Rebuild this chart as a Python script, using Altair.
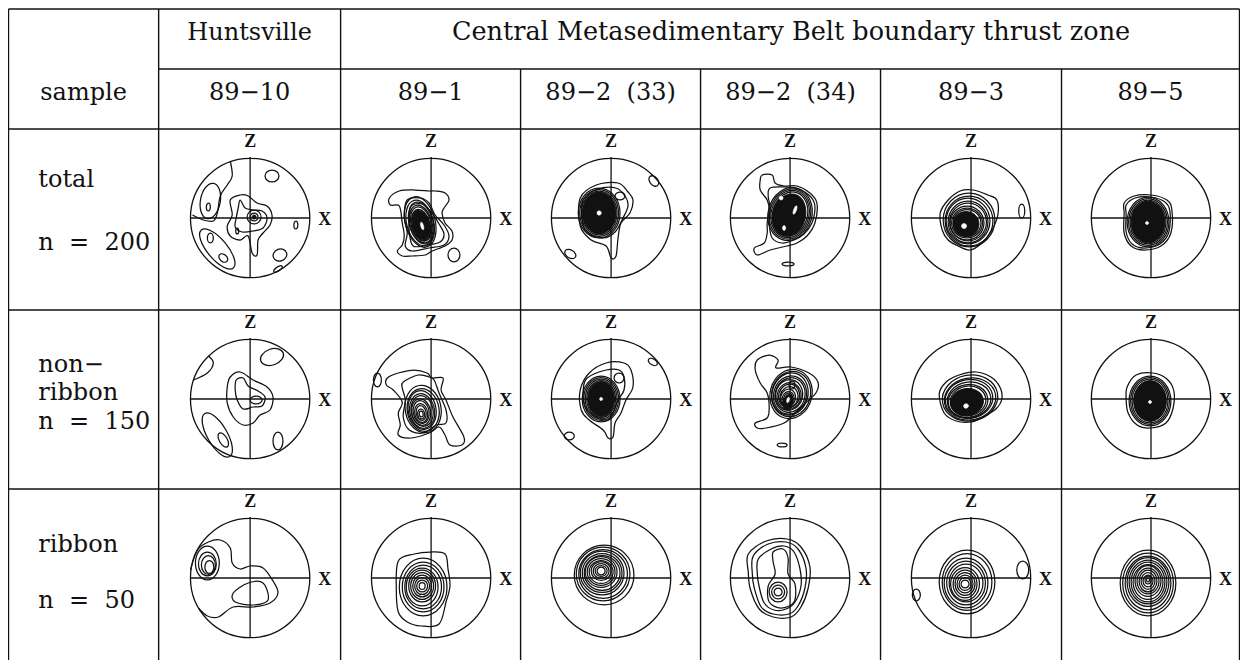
import altair as alt
import pandas as pd

# ---------------- table layout (reference pixel coordinates) ----------------
COL_EDGES = [7, 158, 341, 522, 703, 884, 1066, 1245]
ROW_EDGES = [9, 69, 129, 310, 489, 668]

GROUP_TITLES = ["Huntsville", "Central Metasedimentary Belt boundary thrust zone"]
SAMPLES = ["89\u221210", "89\u22121", "89\u22122\u00a0 (33)", "89\u22122\u00a0 (34)", "89\u22123", "89\u22125"]
ROW_LABELS = [["total", "n\u00a0 =\u00a0 200"],
              ["non\u2212", "ribbon", "n\u00a0 =\u00a0 150"],
              ["ribbon", "n\u00a0 =\u00a0 50"]]
ROW_LABEL_BASELINES = [[187, 250], [372, 400, 429], [552, 608]]

NET_CX = [250, 432, 613, 793, 975, 1156]
NET_CY = [218, 399, 578]
NET_R = 60  # primitive circle radius, in stereonet units

# ---------------- contour data (stereonet units, x right, y down) ----------------
# rings / cores / holes: (dx, dy, rx, ry, rotation deg)
H_TOT_RINGS = [(-40, -17, 10, 18, 10), (-42, -11, 2, 4, 0), (4, -1, 7, 7, 0), (4, -1, 4, 4, 0),
               (-13, 13, 1.5, 3, 0), (22, -42, 7, 6, 0), (46, 7, 2, 4, 0),
               (30, 37, 7, 6, -20), (28, 51, 5, 2, -35), (-33, 31, 25, 10, 50), (-40, 20, 3, 5, 0),
               (-27, 40, 5, 3.5, 40)]
H_TOT_CORES = [(4, -1, 2, 2, 0)]
H_TOT_CLOSED = [[(-20, -18), (-10, -23), (-2, -22), (7, -15), (17, -12), (22, -3), (20, 7), (13, 15),
                 (8, 22), (7, 37), (2, 35), (-2, 18), (-10, 22), (-20, 18), (-23, 8), (-18, -3)],
                [(-10, -18), (-5, -10), (3, -8), (12, -7), (17, 0), (13, 10), (3, 13), (-8, 14),
                 (-15, 9), (-14, 0), (-12, -10)]]
H_TOT_OPEN = [[(-20, -57), (-18, -42), (-23, -33), (-30, -22), (-33, -5), (-37, 3), (-47, 2), (-58, -3)]]

A1_TOT_RINGS = [(-11, 4, 15, 26, -15), (-11, 5, 13.5, 23.5, -15), (-10, 5, 12, 21.5, -15),
                (-10, 6, 11, 19.5, -15), (-10, 6, 10, 17.5, -15), (-10, 7, 9, 16, -15),
                (23, 37, 6, 7, 0)]
A1_TOT_CORES = [(-10, 7, 8.5, 15, -15)]
A1_TOT_HOLES = [(-9, 8, 1.4, 4, -15)]
A1_TOT_CLOSED = [[(-42, -20), (-32, -27), (-16, -28), (-2, -27), (4, -27), (14, -25), (18, -18), (13, -10),
                  (11, -5), (14, 5), (21, 13), (21, 22), (14, 28), (1, 33), (-6, 37), (-19, 38), (-29, 38),
                  (-34, 33), (-29, 27), (-27, 18), (-29, 5), (-32, -12), (-41, -13)],
                 [(-24, -18), (-11, -20), (-2, -15), (4, -3), (13, 7), (18, 18), (13, 27), (-2, 30),
                  (-19, 33), (-26, 28), (-24, 15), (-27, -2)],
                 [(-20, -12), (-9, -14), (0, -6), (8, 6), (13, 16), (9, 24), (-4, 27), (-18, 28),
                  (-22, 14), (-22, 0)]]

A33_TOT_RINGS = [(-12, -5, 21, 25, 0), (-12, -5, 19.5, 23.5, 0), (-12, -5, 18, 22, 0),
                 (9, -22, 5, 4, 0), (-41, 36, 6, 4, 30), (43, -37, 4, 6, -40), (-12, -5, 0.7, 0.7, 0)]
A33_TOT_CORES = [(-12, -5, 17, 21, 0)]
A33_TOT_HOLES = [(-12, -5, 2.2, 2.2, 0)]
A33_TOT_CLOSED = [[(-31, -20), (-15, -33), (7, -35), (17, -26), (22, -18), (19, -5), (10, 5), (7, 20),
                   (5, 38), (0, 40), (-5, 28), (-20, 22), (-31, 8)],
                  [(-28, -18), (-13, -29), (5, -30), (14, -22), (17, -12), (12, 0), (4, 14), (-8, 20),
                   (-24, 15), (-29, 2)]]

A34_TOT_RINGS = [(0, -4, 22, 27, 15), (0, -4, 20.5, 25.5, 15), (0, -4, 19, 24, 15), (0, -4, 17.5, 22.5, 15),
                 (-2, 46, 6, 2, 0)]
A34_TOT_CORES = [(-1, -3, 16.5, 21.5, 15)]
A34_TOT_HOLES = [(-9, -20, 2, 2, 0), (5, -8, 1.4, 4.5, 20), (-6, 10, 1.6, 2.5, 0)]
A34_TOT_CLOSED = [[(-28, -43), (-18, -43), (-15, -35), (-6, -32), (7, -32), (20, -25), (27, -15), (25, 5),
                   (17, 18), (7, 25), (-3, 28), (-20, 32), (-33, 37), (-36, 30), (-26, 25), (-23, 15),
                   (-23, 5), (-21, -8), (-23, -18), (-30, -28), (-30, -38)],
                  [(-20, -30), (-5, -31), (8, -29), (20, -22), (25, -12), (22, 5), (14, 16), (4, 22),
                   (-8, 25), (-18, 20), (-21, 5), (-20, -10), (-22, -22)]]

A3_TOT_RINGS = [(-2, 2, 26, 27, 0), (-2, 3, 24, 25, 0), (-3, 3, 22, 23, 0), (-3, 4, 20, 21, 0),
                (-3, 4, 18.5, 19, 0), (-4, 5, 17, 17, 0), (-4, 5, 15.5, 15, 0), (-4, 5, 14, 13.5, 0),
                (51, -7, 3, 7, 0)]
A3_TOT_CORES = [(-5, 6, 13, 12.5, 0)]
A3_TOT_HOLES = [(-7, 8, 2.6, 2.6, 0)]
A3_TOT_CLOSED = [[(-31, -5), (-23, -18), (-11, -27), (2, -28), (17, -23), (26, -18), (27, -3), (21, 12),
                  (11, 25), (-1, 32), (-13, 28), (-23, 22), (-29, 12)]]

A5_TOT_RINGS = [(-3, 4, 21, 25, 0), (-3, 4, 19.5, 23.5, 0), (-3, 4, 18, 22, 0), (-4, 5, 0.7, 0.7, 0)]
A5_TOT_CORES = [(-3, 4, 17, 21, 0)]
A5_TOT_HOLES = [(-4, 5, 1.6, 1.6, 0)]
A5_TOT_CLOSED = [[(-27, -15), (-17, -22), (0, -23), (16, -18), (21, -8), (20, 15), (10, 28), (-7, 32),
                  (-20, 28), (-27, 15), (-27, -5)],
                 [(-25, -13), (-16, -20), (0, -21), (14, -16), (19, -7), (18, 14), (9, 26), (-7, 30),
                  (-19, 26), (-25, 14), (-25, -4)]]

H_NR_RINGS = [(22, -42, 12, 8, -20), (6, 1, 6, 4, 0), (-33, 36, 25, 10, 60), (-27, 41, 8, 4, 60),
              (28, 42, 5, 9, 0)]
H_NR_CLOSED = [[(-20, -22), (-10, -27), (3, -19), (17, -12), (23, -2), (20, 11), (10, 16), (3, 24),
                (-7, 26), (-17, 18), (-23, 4), (-23, -12)],
               [(-14, -19), (-7, -21), (-2, -13), (8, -8), (15, -2), (12, 7), (3, 8), (-7, 10),
                (-13, 1), (-15, -9)]]
H_NR_OPEN = [[(-42, -43), (-37, -36), (-43, -26), (-57, -19)]]

A1_NR_RINGS = [(-8, 10, 18, 24, -10), (-8, 11, 16, 21.5, -10), (-9, 11, 14, 19.5, -10), (-9, 12, 12.5, 17.5, -10),
               (-9, 12, 11, 15.5, -10), (-10, 13, 9.5, 13.5, -10), (-10, 13, 8, 11.5, -10),
               (-10, 14, 6.5, 9.5, -10), (-10, 14, 5, 7.5, -10), (-10, 15, 3.5, 5, -10),
               (-10, 15, 2, 3, -10), (-54, -19, 4, 7, 0)]
A1_NR_CLOSED = [[(-44, -21), (-33, -26), (-17, -29), (-4, -26), (1, -21), (12, -21), (10, -9), (15, 1),
                 (22, 18), (33, 38), (31, 46), (19, 46), (14, 36), (8, 28), (-2, 34), (-20, 39), (-33, 36),
                 (-31, 26), (-33, 14), (-29, 3), (-38, -9), (-45, -14)],
                [(-28, -17), (-13, -24), (-2, -22), (3, -19), (8, -6), (15, 11), (15, 24), (5, 26),
                 (-8, 34), (-22, 31), (-28, 18), (-26, 1), (-29, -11)]]

A33_NR_RINGS = [(-10, 0, 19, 23, 0), (-10, 0, 17.5, 21.5, 0), (-10, 0, 16, 20, 0), (-10, 0, 14.5, 18.5, 0),
                (8, -21, 5, 5, 0), (42, -37, 5, 3, 30), (-42, 37, 5, 4, 0), (-10, 0, 0.7, 0.7, 0)]
A33_NR_CORES = [(-10, 0, 13.5, 17.5, 0)]
A33_NR_HOLES = [(-10, 0, 1.6, 1.6, 0)]
A33_NR_CLOSED = [[(-22, -26), (-5, -36), (13, -36), (20, -29), (22, -12), (15, 1), (10, 14), (4, 24),
                  (2, 38), (-3, 39), (-8, 31), (-22, 21), (-30, 11), (-31, -9)],
                 [(-24, -21), (-5, -29), (8, -29), (13, -22), (13, -9), (6, 3), (2, 14), (-3, 21),
                  (-15, 18), (-26, 8), (-28, -9)]]

A34_NR_RINGS = [(1, -5, 21, 25, 15), (1, -5, 19.5, 23, 15), (0, -5, 18, 21.5, 15), (0, -4, 16.5, 19.5, 15),
                (0, -4, 15, 17.5, 15), (-1, -4, 13.5, 15.5, 15), (-1, -3, 12, 13.5, 15), (-1, -3, 10.5, 12, 15),
                (-1, -2, 9, 10.5, 15), (-2, -1, 7.5, 9, 15), (-2, 0, 6, 7.5, 15), (-2, 0, 4.5, 6, 15),
                (-2, 1, 3, 4.5, 15), (2, -14, 3, 4, 0), (-8, 46, 5, 2, 0)]
A34_NR_CORES = [(-2, 3, 4.5, 8, 15)]
A34_NR_HOLES = [(-2, 1, 1.3, 2.8, 15)]
A34_NR_CLOSED = [[(-33, -39), (-21, -44), (-12, -39), (-14, -31), (1, -32), (19, -26), (28, -17), (26, -6),
                  (11, 8), (1, 18), (-6, 24), (-24, 29), (-33, 29), (-35, 24), (-23, 19), (-21, 8),
                  (-23, -6), (-30, -16), (-35, -29)]]

A3_NR_RINGS = [(-1, -1, 28, 23, -10), (-1, 0, 26, 21, -10), (-2, 0, 24, 19.5, -10), (-2, 1, 22, 18, -10),
               (-3, 2, 20, 16.5, -10), (-3, 2, 18, 15, -10)]
A3_NR_CORES = [(-4, 3, 16.5, 13.5, -10)]
A3_NR_HOLES = [(-5, 7, 2.5, 2.2, -10)]
A3_NR_CLOSED = [[(-32, -5), (-25, -17), (-12, -24), (5, -27), (20, -22), (29, -12), (31, 0), (25, 10),
                 (12, 18), (0, 23), (-15, 22), (-27, 14)]]

A5_NR_RINGS = [(-1, 2, 21, 25, 0), (-1, 2, 19.5, 23.5, 0), (-1, 2, 18, 22, 0), (-1, 3, 0.7, 0.7, 0)]
A5_NR_CORES = [(-1, 2, 16.5, 20.5, 0)]
A5_NR_HOLES = [(-1, 3, 1.6, 1.6, 0)]
A5_NR_CLOSED = [[(-24, -12), (-15, -24), (2, -26), (16, -20), (23, -8), (22, 10), (15, 24), (0, 29),
                 (-14, 26), (-23, 14), (-25, 0)]]

H_RB_RINGS = [(-43, -15, 12, 17, 0), (-43, -14, 9, 12, 0), (-42, -13, 7, 9.5, 0), (-41, -11, 4.5, 6.5, 0)]
H_RB_CLOSED = [[(-17, 15), (-2, 5), (13, 5), (18, 22), (3, 27), (-15, 24)]]
H_RB_OPEN = [[(-60, -8), (-53, -28), (-42, -36), (-30, -38), (-20, -30), (-18, -15), (-10, -9), (0, -12),
              (13, -10), (23, 3), (28, 15), (20, 25), (3, 29), (-17, 29), (-32, 39), (-43, 38), (-52, 30)]]

A1_RB_RINGS = [(-8, 9, 24, 29, 0), (-8, 9, 21, 25, 0), (-8, 9, 18.5, 22, 0), (-9, 9, 16, 19, 0),
               (-9, 8, 13.5, 16, 0), (-9, 8, 11.5, 13.5, 0), (-9, 8, 9.5, 11, 0), (-9, 8, 7.5, 8.5, 0),
               (-9, 8, 5.5, 6, 0), (-9, 8, 3, 3.5, 0)]
A1_RB_CLOSED = [[(-33, -17), (-17, -24), (-1, -26), (14, -24), (17, -9), (19, 8), (15, 24), (8, 46),
                 (-10, 48), (-24, 44), (-33, 34), (-35, 11)]]

A33_RB_RINGS = [(-7, -3, 30, 30, 0), (-8, -4, 27, 27, 0), (-8, -4, 24.5, 24.5, 0), (-9, -5, 22, 22, 0),
                (-9, -5, 20, 19.5, 0), (-9, -5, 18, 17.5, 0), (-10, -6, 16, 15.5, 0), (-10, -6, 14, 13.5, 0),
                (-10, -6, 12, 11.5, 0), (-10, -7, 10, 9.5, 0), (-10, -7, 8, 7.5, 0), (-10, -7, 6, 5.5, 0),
                (-10, -7, 4, 4, 0)]

A34_RB_RINGS = [(-12, 14, 9, 10, 0), (-12, 14, 6.5, 7, 0), (-12, 14, 4, 4, 0)]
A34_RB_CLOSED = [[(-42, -24), (-24, -37), (-3, -39), (11, -31), (20, -11), (18, 11), (11, 29), (1, 39),
                  (-17, 39), (-31, 31), (-40, 11), (-42, -6)],
                 [(-37, -22), (-22, -34), (-4, -36), (8, -29), (16, -10), (15, 10), (8, 28), (-1, 36),
                  (-17, 36), (-29, 29), (-36, 10), (-38, -5)],
                 [(-32, -19), (-19, -29), (-6, -32), (4, -26), (10, -9), (11, 8), (5, 24), (-4, 31),
                  (-16, 32), (-26, 25), (-31, 9), (-33, -5)],
                 [(-17, -26), (-7, -29), (-2, -20), (-2, -4), (5, 6), (4, 24), (-9, 30), (-21, 24),
                  (-22, 8), (-15, -4), (-17, -16)]]

A3_RB_RINGS = [(-4, 4, 28, 32, 0), (-4, 4, 25, 28.5, 0), (-5, 5, 22, 25, 0), (-5, 5, 19.5, 22, 0),
               (-5, 5, 17, 19, 0), (-6, 6, 14.5, 16.5, 0), (-6, 6, 12, 14, 0), (-6, 6, 10, 11.5, 0),
               (-6, 6, 8, 9, 0), (-6, 6, 6, 6.5, 0), (-6, 6, 4, 4, 0), (52, -8, 6, 9, 0), (-55, 17, 4, 6, 0)]

A5_RB_RINGS = [(-3, 5, 28, 33, 0), (-3, 5, 25.5, 30, 0), (-3, 5, 23, 27, 0), (-3, 4, 21, 24.5, 0),
               (-3, 4, 19, 22, 0), (-3, 4, 17, 20, 0), (-3, 4, 15, 17.5, 0), (-3, 3, 13, 15.5, 0),
               (-3, 3, 11, 13, 0), (-3, 3, 9, 11, 0), (-3, 3, 7, 8.5, 0), (-3, 3, 5, 6, 0),
               (-3, 2, 3, 4, 0), (-3, 2, 1.5, 2, 0)]

# (rings, cores, holes, closed contours, open contours)
NETS = {
    (0, 0): (H_TOT_RINGS, H_TOT_CORES, [], H_TOT_CLOSED, H_TOT_OPEN),
    (0, 1): (A1_TOT_RINGS, A1_TOT_CORES, A1_TOT_HOLES, A1_TOT_CLOSED, []),
    (0, 2): (A33_TOT_RINGS, A33_TOT_CORES, A33_TOT_HOLES, A33_TOT_CLOSED, []),
    (0, 3): (A34_TOT_RINGS, A34_TOT_CORES, A34_TOT_HOLES, A34_TOT_CLOSED, []),
    (0, 4): (A3_TOT_RINGS, A3_TOT_CORES, A3_TOT_HOLES, A3_TOT_CLOSED, []),
    (0, 5): (A5_TOT_RINGS, A5_TOT_CORES, A5_TOT_HOLES, A5_TOT_CLOSED, []),
    (1, 0): (H_NR_RINGS, [], [], H_NR_CLOSED, H_NR_OPEN),
    (1, 1): (A1_NR_RINGS, [], [], A1_NR_CLOSED, []),
    (1, 2): (A33_NR_RINGS, A33_NR_CORES, A33_NR_HOLES, A33_NR_CLOSED, []),
    (1, 3): (A34_NR_RINGS, A34_NR_CORES, A34_NR_HOLES, A34_NR_CLOSED, []),
    (1, 4): (A3_NR_RINGS, A3_NR_CORES, A3_NR_HOLES, A3_NR_CLOSED, []),
    (1, 5): (A5_NR_RINGS, A5_NR_CORES, A5_NR_HOLES, A5_NR_CLOSED, []),
    (2, 0): (H_RB_RINGS, [], [], H_RB_CLOSED, H_RB_OPEN),
    (2, 1): (A1_RB_RINGS, [], [], A1_RB_CLOSED, []),
    (2, 2): (A33_RB_RINGS, [], [], [], []),
    (2, 3): (A34_RB_RINGS, [], [], A34_RB_CLOSED, []),
    (2, 4): (A3_RB_RINGS, [], [], [], []),
    (2, 5): (A5_RB_RINGS, [], [], [], []),
}

# ---------------- scales ----------------
X_SCALE = alt.Scale(domain=[COL_EDGES[0], COL_EDGES[-1]], range=[0.5, 1231.5], nice=False, zero=False)
Y_SCALE = alt.Scale(domain=[8, 660], range=[0, 652], nice=False, zero=False)
XS = 1231.0 / (COL_EDGES[-1] - COL_EDGES[0])
R_PX = NET_R * XS
SIZE_SCALE = alt.Scale(type="pow", exponent=2, domain=[0, NET_R], range=[0, (2 * R_PX) ** 2],
                       nice=False, zero=False)


def X(f):
    return alt.X(f, type="quantitative", scale=X_SCALE, axis=None)


def Y(f):
    return alt.Y(f, type="quantitative", scale=Y_SCALE, axis=None)


def ellipse_path(k):
    c = 0.5523
    n = lambda v: f"{v:.4f}"
    return (f"M1,0C1,{n(c*k)} {n(c)},{n(k)} 0,{n(k)}"
            f"C{n(-c)},{n(k)} -1,{n(c*k)} -1,0"
            f"C-1,{n(-c*k)} {n(-c)},{n(-k)} 0,{n(-k)}"
            f"C{n(c)},{n(-k)} 1,{n(-c*k)} 1,0Z")


# ---------------- table frames ----------------
L, R = COL_EDGES[0], COL_EDGES[-1]
T, B = ROW_EDGES[0], ROW_EDGES[-1]
segs = [dict(x=L, x2=R, y=T, y2=T), dict(x=COL_EDGES[1], x2=R, y=ROW_EDGES[1], y2=ROW_EDGES[1])]
for yy in ROW_EDGES[2:-1]:
    segs.append(dict(x=L, x2=R, y=yy, y2=yy))
for i, xx in enumerate(COL_EDGES):
    top = T if i in (0, 1, 2, len(COL_EDGES) - 1) else ROW_EDGES[1]
    segs.append(dict(x=xx, x2=xx, y=top, y2=B))
seg_df = pd.DataFrame(segs)

title_df = pd.DataFrame([dict(x=(COL_EDGES[1] + COL_EDGES[2]) / 2, y=40, t=GROUP_TITLES[0], fs=24),
                         dict(x=(COL_EDGES[2] + COL_EDGES[-1]) / 2 + 1, y=40, t=GROUP_TITLES[1], fs=25.5)])
head_rows = [dict(x=(COL_EDGES[0] + COL_EDGES[1]) / 2, y=100, t="sample")]
for i, s in enumerate(SAMPLES):
    head_rows.append(dict(x=(COL_EDGES[i + 1] + COL_EDGES[i + 2]) / 2, y=100, t=s))
head_df = pd.DataFrame(head_rows)

lab_rows = []
for labels, bases in zip(ROW_LABELS, ROW_LABEL_BASELINES):
    for t, b in zip(labels, bases):
        lab_rows.append(dict(x=37, y=b, t=t))
lab_df = pd.DataFrame(lab_rows)

# ---------------- stereonet frames ----------------
net_rows, ax_rows = [], []
ell_rows, line_rows = [], []
for (r, c), (rings, cores, holes, closed, opened) in NETS.items():
    cx, cy = NET_CX[c], NET_CY[r]
    net_rows.append(dict(x=cx, y=cy, rx=NET_R, path="circle", ang=0,
                         zx=cx, zy=cy - NET_R - 16, xx=cx + NET_R + 15, xy=cy + 2))
    ax_rows.append(dict(x=cx - NET_R, x2=cx + NET_R, y=cy, y2=cy))
    ax_rows.append(dict(x=cx, x2=cx, y=cy - NET_R - 1, y2=cy + NET_R))
    for kind, group in (("ring", rings), ("core", cores), ("hole", holes)):
        for (dx, dy, rx, ry, ang) in group:
            ell_rows.append(dict(kind=kind, x=cx + dx, y=cy + dy, rx=rx,
                                 path=ellipse_path(ry / rx), ang=ang))
    for kind, group in (("closed", closed), ("open", opened)):
        for i, pts in enumerate(group):
            gid = f"{r}-{c}-{kind}-{i}"
            for j, (dx, dy) in enumerate(pts):
                line_rows.append(dict(kind=kind, gid=gid, ord=j, x=cx + dx, y=cy + dy))

net_df = pd.DataFrame(net_rows)
ax_df = pd.DataFrame(ax_rows)
ell_df = pd.DataFrame(ell_rows)
line_df = pd.DataFrame(line_rows)

INK = "#111111"
SERIF = "DejaVu Serif"
FS = 24

table = alt.Chart(seg_df).mark_rule(color=INK, strokeWidth=1.4).encode(
    x=X("x"), x2="x2", y=Y("y"), y2="y2")

titles = alt.Chart(title_df).mark_text(font=SERIF, align="center", baseline="alphabetic",
                                       color=INK).encode(
    x=X("x"), y=Y("y"), text="t:N", size=alt.Size("fs:Q", scale=None, legend=None))
heads = alt.Chart(head_df).mark_text(font=SERIF, fontSize=FS, align="center", baseline="alphabetic",
                                     color=INK).encode(x=X("x"), y=Y("y"), text="t:N")
labels = alt.Chart(lab_df).mark_text(font=SERIF, fontSize=FS, align="left", baseline="alphabetic",
                                     color=INK).encode(x=X("x"), y=Y("y"), text="t:N")

circles = alt.Chart(net_df).mark_point(filled=False, color=INK, strokeWidth=1.3, opacity=1).encode(
    x=X("x"), y=Y("y"), size=alt.Size("rx:Q", scale=SIZE_SCALE, legend=None),
    shape=alt.Shape("path:N", scale=None))
axes = alt.Chart(ax_df).mark_rule(color=INK, strokeWidth=1.3).encode(
    x=X("x"), x2="x2", y=Y("y"), y2="y2")
zlab = alt.Chart(net_df).mark_text(font="Liberation Serif", fontWeight="bold", fontSize=18,
                                   baseline="middle", align="center", color=INK, text="Z").encode(
    x=X("zx"), y=Y("zy"))
xlab = alt.Chart(net_df).mark_text(font="Liberation Serif", fontWeight="bold", fontSize=18,
                                   baseline="middle", align="center", color=INK, text="X").encode(
    x=X("xx"), y=Y("xy"))

ell_enc = dict(x=X("x"), y=Y("y"), size=alt.Size("rx:Q", scale=SIZE_SCALE, legend=None),
               shape=alt.Shape("path:N", scale=None), angle=alt.Angle("ang:Q", scale=None))
rings_l = alt.Chart(ell_df).transform_filter(alt.datum.kind == "ring").mark_point(
    filled=False, color=INK, strokeWidth=1.25, opacity=1).encode(**ell_enc)
cores_l = alt.Chart(ell_df).transform_filter(alt.datum.kind == "core").mark_point(
    filled=True, fill=INK, stroke=INK, strokeWidth=1, opacity=1, fillOpacity=1).encode(**ell_enc)
holes_l = alt.Chart(ell_df).transform_filter(alt.datum.kind == "hole").mark_point(
    filled=True, fill="white", stroke="white", strokeWidth=0.5, opacity=1, fillOpacity=1).encode(**ell_enc)

closed_lines = alt.Chart(line_df).transform_filter(alt.datum.kind == "closed").mark_line(
    interpolate="cardinal-closed", color=INK, strokeWidth=1.25).encode(
    x=X("x"), y=Y("y"), detail="gid:N", order="ord:Q")
open_lines = alt.Chart(line_df).transform_filter(alt.datum.kind == "open").mark_line(
    interpolate="cardinal", color=INK, strokeWidth=1.25).encode(
    x=X("x"), y=Y("y"), detail="gid:N", order="ord:Q")

chart = alt.layer(table, titles, heads, labels, axes, circles, rings_l, cores_l, holes_l, closed_lines,
                  open_lines, zlab, xlab).properties(
    width=1232, height=652, padding=0,
    autosize=alt.AutoSizeParams(type="none"),
).configure_view(stroke=None)

chart.save("out.html", embed_options={"renderer": "svg", "actions": False})
